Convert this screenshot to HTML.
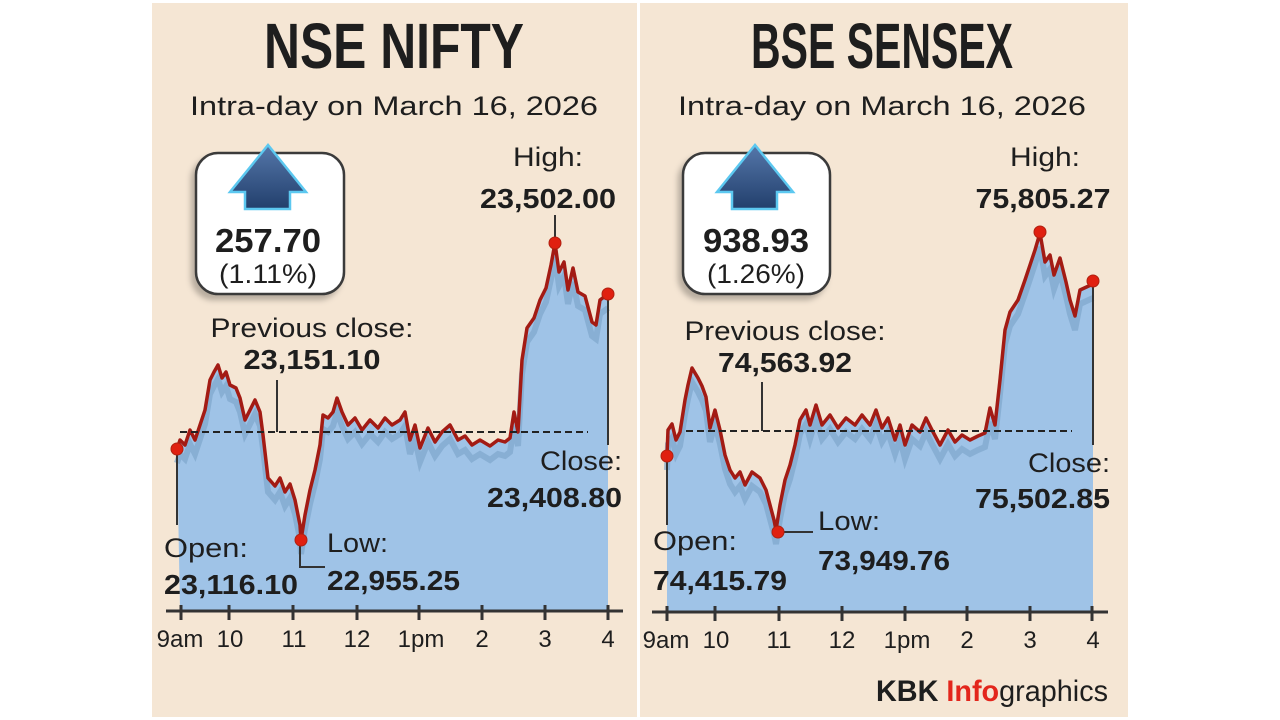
<!DOCTYPE html>
<html><head><meta charset="utf-8"><style>
html,body{margin:0;padding:0;background:#fff;}
svg{display:block}
text{font-family:"Liberation Sans",sans-serif;fill:#1e1e1e}
.t{font-family:"Liberation Sans Narrow","Liberation Sans",sans-serif;font-weight:bold;font-size:64px}
.s{font-size:27px}
.l{font-size:27px}
.b{font-size:28px;font-weight:bold}
.ax{font-size:24px}
</style></head><body>
<svg width="1280" height="720" viewBox="0 0 1280 720">
<defs>
<linearGradient id="ag" x1="0" y1="0" x2="0" y2="1"><stop offset="0" stop-color="#5577aa"/><stop offset="1" stop-color="#223f6c"/></linearGradient>
<filter id="sh" x="-20%" y="-20%" width="150%" height="150%"><feDropShadow dx="-4" dy="5" stdDeviation="3" flood-color="#000" flood-opacity="0.25"/></filter>
</defs>
<rect x="152" y="3" width="976" height="714" fill="#f5e6d4"/>
<rect x="637" y="0" width="3" height="720" fill="#fff"/>

<!-- LEFT PANEL -->
<text class="t" x="394" y="68" text-anchor="middle" textLength="260" lengthAdjust="spacingAndGlyphs">NSE NIFTY</text>
<text class="s" x="394" y="115" text-anchor="middle" textLength="408" lengthAdjust="spacingAndGlyphs">Intra-day on March 16, 2026</text>

<g>
<path d="M177,449 L180,440 185,445 190,430 195,440 200,425 205,410 210,380 214,372 218,365 222,378 226,372 230,385 236,388 240,398 245,420 250,410 255,400 260,412 263,435 268,478 275,486 280,478 285,492 290,484 295,500 300,525 301,540 305,515 310,490 315,470 320,445 323,415 328,418 333,412 337,398 342,412 348,425 355,418 362,430 370,420 378,428 385,418 392,425 400,420 405,412 410,440 415,425 420,448 428,428 435,442 442,432 450,425 458,440 465,436 472,445 480,440 490,446 498,440 505,442 510,438 514,412 518,432 522,360 527,328 534,318 540,300 546,288 551,265 555,243 559,272 564,262 568,290 573,268 578,292 585,296 592,322 596,325 600,300 608,294 L608,610 L180,610 Z" fill="#9fc3e7"/>
<path d="M177,449 L180,440 185,445 190,430 195,440 200,425 205,410 210,380 214,372 218,365 222,378 226,372 230,385 236,388 240,398 245,420 250,410 255,400 260,412 263,435 268,478 275,486 280,478 285,492 290,484 295,500 300,525 301,540 305,515 310,490 315,470 320,445 323,415 328,418 333,412 337,398 342,412 348,425 355,418 362,430 370,420 378,428 385,418 392,425 400,420 405,412 410,440 415,425 420,448 428,428 435,442 442,432 450,425 458,440 465,436 472,445 480,440 490,446 498,440 505,442 510,438 514,412 518,432 522,360 527,328 534,318 540,300 546,288 551,265 555,243 559,272 564,262 568,290 573,268 578,292 585,296 592,322 596,325 600,300 608,294" fill="none" stroke="#7fa6cc" stroke-width="6" transform="translate(0,14)" opacity="0.7"/>
<path d="M177,449 L180,440 185,445 190,430 195,440 200,425 205,410 210,380 214,372 218,365 222,378 226,372 230,385 236,388 240,398 245,420 250,410 255,400 260,412 263,435 268,478 275,486 280,478 285,492 290,484 295,500 300,525 301,540 305,515 310,490 315,470 320,445 323,415 328,418 333,412 337,398 342,412 348,425 355,418 362,430 370,420 378,428 385,418 392,425 400,420 405,412 410,440 415,425 420,448 428,428 435,442 442,432 450,425 458,440 465,436 472,445 480,440 490,446 498,440 505,442 510,438 514,412 518,432 522,360 527,328 534,318 540,300 546,288 551,265 555,243 559,272 564,262 568,290 573,268 578,292 585,296 592,322 596,325 600,300 608,294" fill="none" stroke="#a31b14" stroke-width="3.5" stroke-linejoin="round"/>
<line x1="180" y1="432" x2="588" y2="432" stroke="#222" stroke-width="2" stroke-dasharray="7,4"/>
<g stroke="#333" stroke-width="2" fill="none">
<line x1="277" y1="380" x2="277" y2="432"/>
<line x1="555" y1="215" x2="555" y2="243"/>
<line x1="608" y1="294" x2="608" y2="445"/>
<line x1="177" y1="449" x2="177" y2="525"/>
<polyline points="300,540 300,567 325,567"/>
</g>
<g fill="#e02010" stroke="#b02010" stroke-width="1"><circle cx="177" cy="449" r="6"/><circle cx="301" cy="540" r="6"/><circle cx="555" cy="243" r="6"/><circle cx="608" cy="294" r="6"/></g>
<g stroke="#333" stroke-width="3"><line x1="166" y1="611" x2="623" y2="611"/>
<line x1="181" y1="605" x2="181" y2="620"/><line x1="229" y1="605" x2="229" y2="620"/><line x1="293" y1="605" x2="293" y2="620"/><line x1="357" y1="605" x2="357" y2="620"/><line x1="419" y1="605" x2="419" y2="620"/><line x1="482" y1="605" x2="482" y2="620"/><line x1="545" y1="605" x2="545" y2="620"/><line x1="608" y1="605" x2="608" y2="620"/></g>
<g text-anchor="middle"><text x="180" y="647" class="ax">9am</text><text x="230" y="647" class="ax">10</text><text x="294" y="647" class="ax">11</text><text x="357" y="647" class="ax">12</text><text x="421" y="647" class="ax">1pm</text><text x="482" y="647" class="ax">2</text><text x="545" y="647" class="ax">3</text><text x="608" y="647" class="ax">4</text></g>
</g>
<rect x="196" y="153" width="148" height="141" rx="22" fill="#fff" stroke="#3a3a3a" stroke-width="2.5" filter="url(#sh)"/>
<path d="M268,145 L230,192 L245,192 L245,209 L290,209 L290,192 L306,192 Z" fill="url(#ag)" stroke="#5cc8f0" stroke-width="2.5"/>
<text class="b" x="268" y="252" text-anchor="middle" style="font-size:33px" textLength="106" lengthAdjust="spacingAndGlyphs">257.70</text>
<text class="l" x="268" y="283" text-anchor="middle" textLength="98" lengthAdjust="spacingAndGlyphs">(1.11%)</text>
<text class="l" x="548" y="166" text-anchor="middle" textLength="70" lengthAdjust="spacingAndGlyphs">High:</text>
<text class="b" x="548" y="208" text-anchor="middle" textLength="136" lengthAdjust="spacingAndGlyphs">23,502.00</text>
<text class="l" x="312" y="337" text-anchor="middle" textLength="203" lengthAdjust="spacingAndGlyphs">Previous close:</text>
<text class="b" x="312" y="369" text-anchor="middle" textLength="137" lengthAdjust="spacingAndGlyphs">23,151.10</text>
<text class="l" x="622" y="470" text-anchor="end" textLength="82" lengthAdjust="spacingAndGlyphs">Close:</text>
<text class="b" x="622" y="507" text-anchor="end" textLength="135" lengthAdjust="spacingAndGlyphs">23,408.80</text>
<text class="l" x="164" y="557" textLength="84" lengthAdjust="spacingAndGlyphs">Open:</text>
<text class="b" x="164" y="594" textLength="134" lengthAdjust="spacingAndGlyphs">23,116.10</text>
<text class="l" x="327" y="552" textLength="61" lengthAdjust="spacingAndGlyphs">Low:</text>
<text class="b" x="327" y="590" textLength="133" lengthAdjust="spacingAndGlyphs">22,955.25</text>

<!-- RIGHT PANEL -->
<text class="t" x="882" y="68" text-anchor="middle" textLength="262" lengthAdjust="spacingAndGlyphs">BSE SENSEX</text>
<text class="s" x="882" y="115" text-anchor="middle" textLength="408" lengthAdjust="spacingAndGlyphs">Intra-day on March 16, 2026</text>
<path id="rp" d="M667,456 L668,430 672,424 676,440 680,432 685,400 688,385 692,368 698,378 702,386 706,397 710,428 715,410 720,430 725,455 730,470 735,478 740,472 745,485 752,472 760,478 766,490 770,505 774,520 776,530 780,505 785,480 790,465 795,445 800,420 806,410 810,425 816,405 822,425 830,415 838,428 846,418 855,425 862,415 870,425 876,410 882,428 888,418 895,440 900,425 905,445 912,425 920,432 926,418 932,430 940,445 948,430 955,442 962,435 970,440 978,436 985,433 990,408 995,425 1000,380 1005,330 1010,312 1018,300 1025,280 1030,265 1035,250 1040,233 1045,262 1050,255 1054,275 1060,258 1066,282 1070,300 1075,316 1080,290 1093,284" fill="none"/>
<path d="M667,456 L668,430 672,424 676,440 680,432 685,400 688,385 692,368 698,378 702,386 706,397 710,428 715,410 720,430 725,455 730,470 735,478 740,472 745,485 752,472 760,478 766,490 770,505 774,520 776,530 780,505 785,480 790,465 795,445 800,420 806,410 810,425 816,405 822,425 830,415 838,428 846,418 855,425 862,415 870,425 876,410 882,428 888,418 895,440 900,425 905,445 912,425 920,432 926,418 932,430 940,445 948,430 955,442 962,435 970,440 978,436 985,433 990,408 995,425 1000,380 1005,330 1010,312 1018,300 1025,280 1030,265 1035,250 1040,233 1045,262 1050,255 1054,275 1060,258 1066,282 1070,300 1075,316 1080,290 1093,284 L1093,612 L667,612 Z" fill="#9fc3e7"/>
<use href="#rp" stroke="#7fa6cc" stroke-width="6" transform="translate(0,14)" opacity="0.7"/>
<use href="#rp" stroke="#a31b14" stroke-width="3.5" stroke-linejoin="round"/>
<line x1="686" y1="431" x2="1072" y2="431" stroke="#222" stroke-width="2" stroke-dasharray="7,4"/>
<g stroke="#333" stroke-width="2" fill="none">
<line x1="762" y1="382" x2="762" y2="431"/>
<line x1="1093" y1="284" x2="1093" y2="445"/>
<line x1="667" y1="456" x2="667" y2="525"/>
<line x1="778" y1="532" x2="813" y2="532"/>
</g>
<g fill="#e02010" stroke="#b02010" stroke-width="1"><circle cx="667" cy="456" r="6"/><circle cx="778" cy="532" r="6"/><circle cx="1040" cy="232" r="6"/><circle cx="1093" cy="281" r="6"/></g>
<g stroke="#333" stroke-width="3"><line x1="652" y1="612" x2="1108" y2="612"/>
<line x1="667" y1="606" x2="667" y2="621"/><line x1="715" y1="606" x2="715" y2="621"/><line x1="779" y1="606" x2="779" y2="621"/><line x1="842" y1="606" x2="842" y2="621"/><line x1="905" y1="606" x2="905" y2="621"/><line x1="967" y1="606" x2="967" y2="621"/><line x1="1030" y1="606" x2="1030" y2="621"/><line x1="1092" y1="606" x2="1092" y2="621"/></g>
<g text-anchor="middle"><text x="666" y="648" class="ax">9am</text><text x="716" y="648" class="ax">10</text><text x="779" y="648" class="ax">11</text><text x="842" y="648" class="ax">12</text><text x="907" y="648" class="ax">1pm</text><text x="967" y="648" class="ax">2</text><text x="1030" y="648" class="ax">3</text><text x="1093" y="648" class="ax">4</text></g>
<rect x="683" y="153" width="147" height="141" rx="22" fill="#fff" stroke="#3a3a3a" stroke-width="2.5" filter="url(#sh)"/>
<path d="M755,145 L717,192 L732,192 L732,209 L777,209 L777,192 L793,192 Z" fill="url(#ag)" stroke="#5cc8f0" stroke-width="2.5"/>
<text class="b" x="756" y="252" text-anchor="middle" style="font-size:33px" textLength="106" lengthAdjust="spacingAndGlyphs">938.93</text>
<text class="l" x="756" y="283" text-anchor="middle" textLength="98" lengthAdjust="spacingAndGlyphs">(1.26%)</text>
<text class="l" x="1045" y="166" text-anchor="middle" textLength="70" lengthAdjust="spacingAndGlyphs">High:</text>
<text class="b" x="1043" y="208" text-anchor="middle" textLength="135" lengthAdjust="spacingAndGlyphs">75,805.27</text>
<text class="l" x="785" y="340" text-anchor="middle" textLength="201" lengthAdjust="spacingAndGlyphs">Previous close:</text>
<text class="b" x="785" y="372" text-anchor="middle" textLength="134" lengthAdjust="spacingAndGlyphs">74,563.92</text>
<text class="l" x="1110" y="472" text-anchor="end" textLength="82" lengthAdjust="spacingAndGlyphs">Close:</text>
<text class="b" x="1110" y="508" text-anchor="end" textLength="135" lengthAdjust="spacingAndGlyphs">75,502.85</text>
<text class="l" x="653" y="550" textLength="84" lengthAdjust="spacingAndGlyphs">Open:</text>
<text class="b" x="653" y="590" textLength="134" lengthAdjust="spacingAndGlyphs">74,415.79</text>
<text class="l" x="818" y="530" textLength="62" lengthAdjust="spacingAndGlyphs">Low:</text>
<text class="b" x="818" y="570" textLength="132" lengthAdjust="spacingAndGlyphs">73,949.76</text>
<text x="876" y="701" style="font-family:'Liberation Sans Narrow','Liberation Sans',sans-serif;font-size:30px" textLength="232" lengthAdjust="spacingAndGlyphs"><tspan font-weight="bold">KBK </tspan><tspan font-weight="bold" style="fill:#e3261c">Info</tspan><tspan>graphics</tspan></text>
</svg>
</body></html>
